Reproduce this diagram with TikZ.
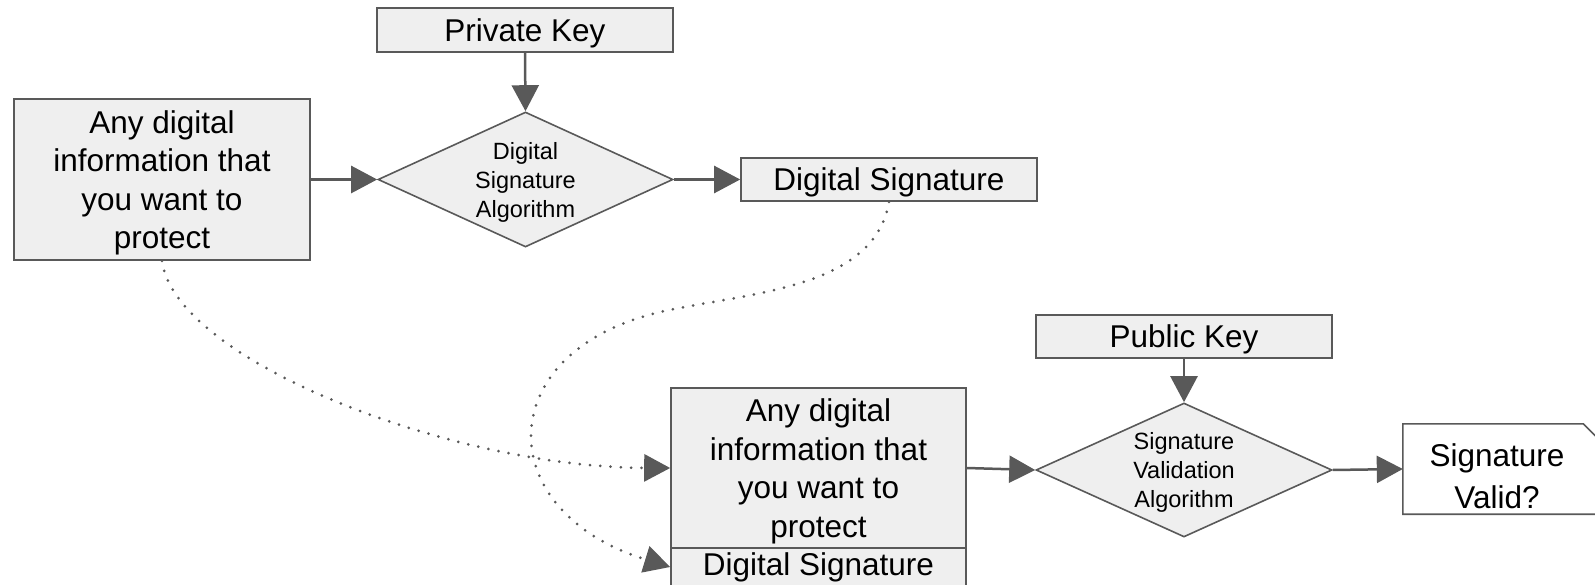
\documentclass[tikz,border=0pt]{standalone}
\usepackage{fontspec}
\setmainfont{Liberation Sans}
\usetikzlibrary{arrows.meta,shapes.geometric}
\definecolor{edgegray}{HTML}{595959}
\definecolor{boxfill}{HTML}{EFEFEF}
\newcommand{\diagbig}{\fontsize{31.5}{38.5}\selectfont}
\newcommand{\diagsmall}{\fontsize{23.5}{29}\selectfont}
\begin{document}
\begin{tikzpicture}[x=1pt,y=-1pt,
  box/.style={rectangle, draw=edgegray, line width=1.6pt, fill=boxfill,
    inner sep=0pt, align=center, font=\diagbig, minimum width=296pt},
  lowered/.style={text depth=-1.5pt},
  decision/.style={diamond, draw=edgegray, line width=1.6pt, fill=boxfill,
    inner sep=0pt, shape aspect=2.185, align=center, font=\diagsmall,
    text depth=-3pt, minimum width=295pt, minimum height=135pt},
  flow/.style={draw=edgegray, line width=2.5pt,
    -{Triangle[length=26pt,width=27pt]}, color=edgegray},
  carry/.style={draw=edgegray, line width=3pt, line cap=round,
    dash pattern=on 0pt off 10.3pt,
    -{Triangle[length=26pt,width=27pt]}, color=edgegray}]
\useasboundingbox (0,0) rectangle (1595,585);

% signing side
\node[box, lowered, minimum height=44pt] (pk) at (525,30) {Private Key};
\node[box, lowered, minimum height=161pt] (info) at (162,179.5)
  {Any digital\\information that\\you want to\\protect};
\node[decision] (sign) at (525.5,179.5) {Digital\\Signature\\Algorithm};
\node[box, lowered, minimum height=43pt] (sig) at (889,179.5) {Digital Signature};

% validation side
\node[box, lowered, minimum height=43pt] (pub) at (1184,336.5) {Public Key};
\node[box, lowered, minimum width=295pt, minimum height=160pt] (msg) at (818.5,468)
  {Any digital\\information that\\you want to\\protect};
\node[box, minimum width=295pt, minimum height=38pt] (msgsig) at (818.5,567)
  {Digital Signature};
\node[decision, minimum width=296pt, minimum height=134pt] (check) at (1184,470)
  {Signature\\Validation\\Algorithm};

% result box with a cut corner
\node[rectangle, inner sep=0pt, minimum width=197pt, minimum height=90pt]
  (validbox) at (1501.5,469) {};
\draw[draw=edgegray, line width=1.6pt, fill=white]
  (validbox.south east) -- (validbox.south west) -- (validbox.north west)
  -- ([xshift=-17pt]validbox.north east) -- ([yshift=-17pt]validbox.north east)
  -- cycle;
\node[align=center, font=\fontsize{31.5}{42}\selectfont] (valid) at (1497,476)
  {Signature\\Valid?};

% solid flow
\draw[flow] (pk.south) -- (sign.north);
\draw[flow] (info.east) -- (sign.west);
\draw[flow] (sign.east) -- (sig.west);
\draw[flow] (pub.south) -- (check.north);
\draw[flow] (msg.east) -- (check.west);
\draw[flow] (check.east) -- (validbox.west);

% carried-over data
\draw[carry] (info.south) .. controls (175,360) and (450,467) .. (msg.west);
\draw[carry] (sig.south) .. controls (875,285) and (760,292) .. (680,308)
  .. controls (490,340) and (485,510) .. (msgsig.west);
\end{tikzpicture}
\end{document}
